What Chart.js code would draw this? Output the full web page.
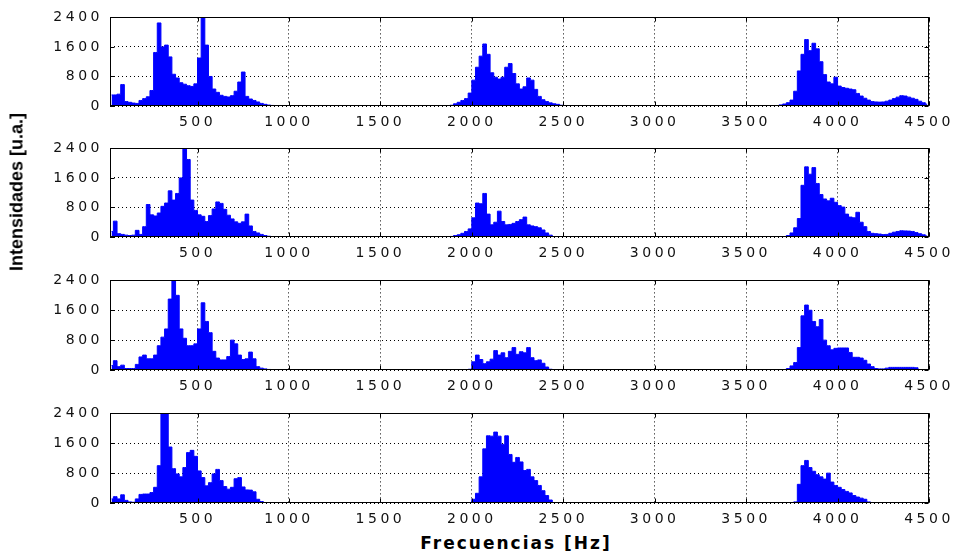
<!DOCTYPE html>
<html>
<head>
<meta charset="utf-8">
<title>Espectros</title>
<script src="https://cdn.jsdelivr.net/npm/chart.js@4.4.1/dist/chart.umd.min.js"></script>
<style>
  html, body { margin: 0; padding: 0; background: #fff; }
  #wrap { position: relative; width: 956px; height: 554px; overflow: hidden; background: #fff; }
  #wrap canvas { position: absolute; left: 0; }
  .ytitle {
    position: absolute; left: 17px; top: 192px;
    transform: translate(-50%, -50%) rotate(-90deg);
    font: bold 18px "Liberation Sans", Arial, sans-serif; white-space: nowrap; color: #000;
  }
  .xtitle {
    position: absolute; left: 516px; top: 543px;
    transform: translate(-50%, -50%);
    font: bold 17px "DejaVu Sans", sans-serif; letter-spacing: 2px; white-space: nowrap; color: #000;
  }
</style>
</head>
<body>
<div id="wrap">
  <canvas id="p0" width="956" height="132"></canvas>
  <canvas id="p1" width="956" height="132"></canvas>
  <canvas id="p2" width="956" height="133"></canvas>
  <canvas id="p3" width="956" height="133"></canvas>
  <div class="ytitle">Intensidades [u.a.]</div>
  <div class="xtitle">Frecuencias [Hz]</div>
</div>
<script>
// tick labels
var xTicks = [500, 1000, 1500, 2000, 2500, 3000, 3500, 4000, 4500];
var yTicks = [0, 800, 1600, 2400];

// frequency bins (Hz) of the three bands where there is signal
var lowHz = [30, 50, 70, 90, 110, 130, 150, 170, 190, 210,
             230, 250, 270, 290, 310, 330, 350, 370, 390, 410,
             430, 450, 470, 490, 510, 530, 550, 570, 590, 610,
             630, 650, 670, 690, 710, 730, 750, 770, 790, 810,
             830, 850, 870, 890, 910, 930, 950];
var midHz = [1850, 1870, 1890, 1910, 1930, 1950, 1970, 1990, 2010, 2030,
             2050, 2070, 2090, 2110, 2130, 2150, 2170, 2190, 2210, 2230,
             2250, 2270, 2290, 2310, 2330, 2350, 2370, 2390, 2410, 2430,
             2450, 2470, 2490, 2510, 2530, 2550];
var highHz = [3650, 3670, 3690, 3710, 3730, 3750, 3770, 3790, 3810, 3830,
              3850, 3870, 3890, 3910, 3930, 3950, 3970, 3990, 4010, 4030,
              4050, 4070, 4090, 4110, 4130, 4150, 4170, 4190, 4210, 4230,
              4250, 4270, 4290, 4310, 4330, 4350, 4370, 4390, 4410, 4430,
              4450, 4470, 4490];

// intensities (u.a.) read per panel, top to bottom
var s1Low = [300, 300, 320, 580, 120, 100, 80, 70, 150, 200,
             250, 420, 1450, 2250, 1600, 1650, 1330, 860, 760, 630,
             590, 550, 530, 600, 1300, 2400, 1650, 800, 460, 370,
             290, 260, 245, 280, 400, 650, 920, 260, 190, 150,
             110, 70, 45, 25, 15, 8, 0];
var s1Mid = [0, 0, 20, 60, 100, 150, 200, 350, 700, 1050,
             1350, 1680, 1400, 900, 780, 730, 780, 1050, 1150, 880,
             600, 460, 520, 760, 700, 450, 260, 170, 120, 85,
             60, 45, 20, 0, 0, 0];
var s1High = [0, 10, 30, 55, 90, 160, 400, 950, 1400, 1800,
              1500, 1700, 1550, 1200, 850, 650, 600, 780, 540, 500,
              480, 460, 440, 340, 270, 210, 160, 120, 110, 105,
              110, 130, 160, 200, 240, 280, 270, 240, 210, 180,
              130, 90, 50];

var s2Low = [150, 430, 90, 70, 50, 40, 50, 180, 70, 280,
             880, 600, 570, 650, 830, 920, 1250, 1000, 1180, 1600,
             2400, 2100, 1000, 720, 600, 560, 420, 580, 760, 950,
             910, 750, 590, 490, 410, 370, 410, 620, 300, 150,
             110, 70, 40, 20, 10, 0, 0];
var s2Mid = [0, 0, 15, 40, 60, 100, 150, 220, 520, 920,
             900, 1180, 620, 330, 400, 700, 420, 330, 340, 370,
             420, 470, 540, 330, 300, 280, 250, 190, 110, 50,
             10, 0, 0, 0, 0, 0];
var s2High = [0, 0, 0, 5, 40, 110, 250, 500, 1400, 1900,
              1700, 1880, 1450, 1150, 1030, 980, 1050, 940, 850, 810,
              620, 540, 520, 670, 400, 280, 150, 100, 90, 80,
              65, 70, 100, 130, 150, 170, 165, 160, 150, 120,
              90, 60, 30];

var s3Low = [120, 250, 90, 130, 40, 40, 40, 150, 350, 400,
             300, 300, 400, 650, 880, 1100, 1900, 2400, 2000, 1100,
             850, 650, 650, 700, 1100, 1800, 1300, 1000, 500, 320,
             270, 270, 360, 800, 700, 400, 280, 300, 480, 300,
             90, 50, 30, 15, 5, 0, 0];
var s3Mid = [0, 0, 0, 0, 0, 0, 0, 20, 220, 400,
             280, 170, 220, 290, 520, 400, 460, 330, 500, 600,
             420, 490, 460, 600, 330, 250, 270, 180, 80, 20,
             0, 0, 0, 0, 0, 0];
var s3High = [0, 0, 0, 0, 40, 110, 200, 600, 1450, 1740,
              1600, 1300, 1160, 1350, 800, 650, 540, 580, 590, 590,
              590, 470, 340, 340, 320, 260, 160, 90, 40, 30,
              30, 50, 70, 70, 70, 70, 70, 70, 70, 60,
              0, 0, 0];

var s4Low = [110, 170, 110, 220, 70, 30, 20, 110, 230, 240,
             240, 280, 420, 1000, 2400, 2400, 1500, 920, 780, 700,
             950, 1350, 1410, 1250, 860, 680, 460, 545, 780, 900,
             600, 440, 370, 420, 650, 680, 430, 350, 345, 300,
             100, 40, 10, 0, 0, 0, 0];
var s4Mid = [0, 0, 0, 0, 0, 0, 0, 10, 100, 260,
             700, 1450, 1800, 1790, 1900, 1790, 1570, 1800, 1300, 1090,
             1220, 1100, 870, 900, 700, 600, 470, 330, 200, 80,
             10, 0, 0, 0, 0, 0];
var s4High = [0, 0, 0, 0, 0, 0, 30, 500, 1000, 1140,
              950, 850, 760, 700, 640, 800, 560, 470, 420, 360,
              310, 270, 200, 160, 130, 100, 30, 0, 0, 0,
              0, 0, 0, 0, 0, 0, 0, 0, 0, 0,
              0, 0, 0];

var panels = [
    [s1Low, s1Mid, s1High],
    [s2Low, s2Mid, s2High],
    [s3Low, s3Mid, s3High],
    [s4Low, s4Mid, s4High]
];

// page layout (px): top of each plot box and its height
var plotTop = [14, 145, 277, 410];
var plotHeight = [92, 92, 93, 93];
var padTop = 12;
var xAxisHeight = 28;

function toPoints(hz, vals) {
    return hz.map(function(f, i) { return { x: f, y: vals[i] }; });
}

function plainLabel(v) {
    return String(v);
}

// matlab style: closed box + short inward ticks on all four sides
var matlabAxes = {
    id: 'matlabAxes',
    beforeDraw: function(chart) {
        chart.ctx.letterSpacing = '3.5px';
    },
    afterDraw: function(chart) {
        var ctx = chart.ctx;
        var a = chart.chartArea;
        var xs = chart.scales.x, ys = chart.scales.y;
        var L = Math.round(a.left) + 0.5, R = Math.round(a.right) - 0.5;
        var T = Math.round(a.top) + 0.5, B = Math.round(a.bottom) - 0.5;
        ctx.save();
        ctx.strokeStyle = '#000';
        ctx.lineWidth = 1;
        ctx.setLineDash([]);
        ctx.strokeRect(L, T, R - L, B - T);
        ctx.beginPath();
        xTicks.forEach(function(v) {
            var px = Math.round(xs.getPixelForValue(v)) + 0.5;
            ctx.moveTo(px, B); ctx.lineTo(px, B - 4);
            ctx.moveTo(px, T); ctx.lineTo(px, T + 4);
        });
        yTicks.forEach(function(v) {
            var py = Math.round(ys.getPixelForValue(v)) + 0.5;
            ctx.moveTo(L, py); ctx.lineTo(L + 4, py);
            ctx.moveTo(R, py); ctx.lineTo(R - 4, py);
        });
        ctx.stroke();
        ctx.restore();
    }
};

function makePanel(i) {
    var canvas = document.getElementById('p' + i);
    canvas.style.top = (plotTop[i] - padTop) + 'px';
    canvas.height = padTop + plotHeight[i] + xAxisHeight;

    var bands = panels[i];
    var pts = toPoints(lowHz, bands[0])
        .concat(toPoints(midHz, bands[1]))
        .concat(toPoints(highHz, bands[2]));

    var tickFont = { family: '"DejaVu Sans", sans-serif', size: 14 };

    return new Chart(canvas, {
        type: 'line',
        data: {
            datasets: [{
                data: pts,
                fill: 'origin',
                stepped: 'middle',
                borderColor: '#0000ff',
                backgroundColor: '#0000ff',
                borderWidth: 1,
                pointRadius: 0
            }]
        },
        options: {
            responsive: false,
            animation: false,
            events: [],
            layout: { padding: { top: padTop, left: 0, right: 27, bottom: 0 } },
            plugins: { legend: { display: false }, tooltip: { enabled: false } },
            scales: {
                x: {
                    type: 'linear',
                    min: 21.5,
                    max: 4500,
                    afterBuildTicks: function(s) { s.ticks = xTicks.map(function(v) { return { value: v }; }); },
                    afterFit: function(s) { s.height = xAxisHeight; },
                    ticks: { autoSkip: false, maxRotation: 0, padding: 8, color: '#111', font: tickFont, callback: plainLabel },
                    grid: { color: '#000', lineWidth: 1, drawTicks: false },
                    border: { display: false, dash: [1, 3] }
                },
                y: {
                    min: 0,
                    max: 2400,
                    afterBuildTicks: function(s) { s.ticks = yTicks.map(function(v) { return { value: v }; }); },
                    afterFit: function(s) { s.width = 110; },
                    ticks: { padding: 7, color: '#111', font: tickFont, callback: plainLabel },
                    grid: { color: '#000', lineWidth: 1, drawTicks: false },
                    border: { display: false, dash: [1, 3] }
                }
            }
        },
        plugins: [matlabAxes]
    });
}

for (var i = 0; i < panels.length; i++) {
    makePanel(i);
}
</script>
</body>
</html>
